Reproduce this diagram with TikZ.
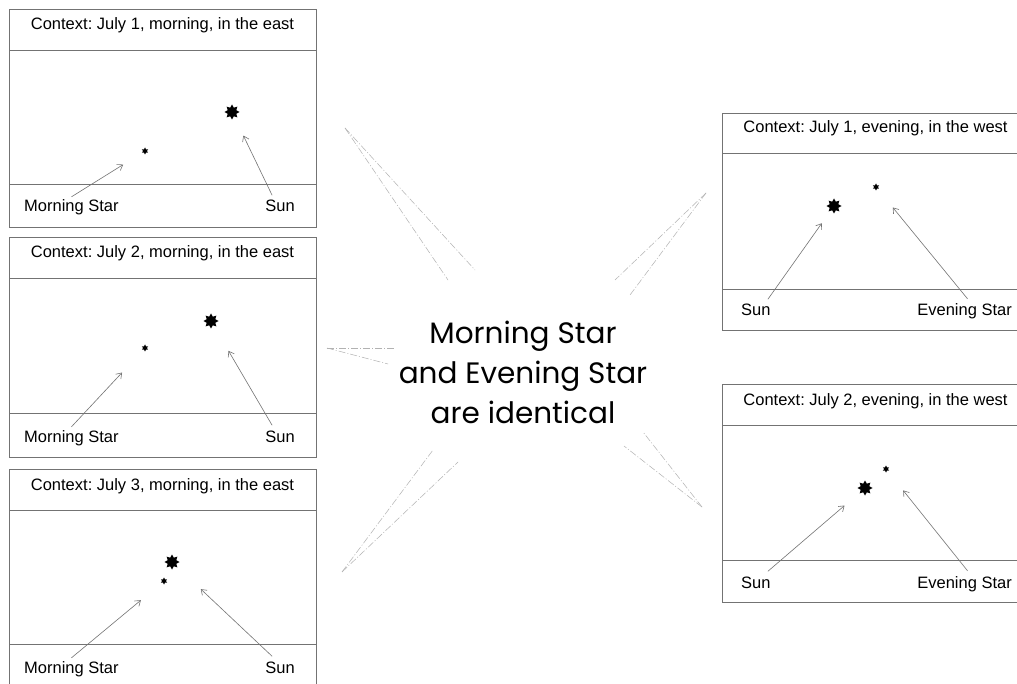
\documentclass[tikz,border=0pt]{standalone}
\usepackage{fontspec}
\setmainfont{Liberation Sans}
\newfontfamily\claimfont{Poppins}
\usetikzlibrary{arrows.meta, shapes.geometric}
\frenchspacing

\tikzset{
  frame/.style={draw=black!55, line width=0.8pt},
  ctx/.style={font=\fontsize{16.5}{19}\selectfont, anchor=base, inner sep=0pt},
  lab/.style={font=\fontsize{16.5}{19}\selectfont, inner sep=1pt},
  sun/.style={star, star points=8, star point ratio=1.6, minimum size=15pt, fill=black, inner sep=0pt},
  planet/.style={star, star points=6, star point ratio=1.8, minimum size=7pt, fill=black, inner sep=0pt},
  ptr/.style={draw=black!55, line width=0.6pt, -{Straight Barb[length=5pt,width=7pt]}},
  ray/.style={draw=black!30, line width=0.5pt, dash pattern=on 7pt off 2pt on 1pt off 2pt}
}

\begin{document}
\begin{tikzpicture}[x=1pt,y=-1pt]
\useasboundingbox[fill=white] (0,0) rectangle (1017,684);

% left panels: morning, in the east
\draw[frame] (9,9) rectangle (316,227);
\draw[frame] (9,50) -- (316,50);
\draw[frame] (9,184) -- (316,184);
\node[ctx] (p1ctx) at (162.5,30) {Context: July 1, morning, in the east};
\node[planet] (p1ms) at (145,151) {};
\node[sun] (p1sun) at (232,112) {};
\node[lab, anchor=base west] (p1mslab) at (23,212) {Morning Star};
\node[lab, anchor=base east] (p1sunlab) at (296,212) {Sun};
\draw[ptr, shorten >=22pt] ([yshift=2pt]p1mslab.north) -- (p1ms);
\draw[ptr, shorten >=21pt] ([xshift=-8pt,yshift=4pt]p1sunlab.north) -- (p1sun);

\draw[frame] (9,237) rectangle (316,457);
\draw[frame] (9,278) -- (316,278);
\draw[frame] (9,413) -- (316,413);
\node[ctx] (p2ctx) at (162.5,258) {Context: July 2, morning, in the east};
\node[planet] (p2ms) at (145,348) {};
\node[sun] (p2sun) at (211,321) {};
\node[lab, anchor=base west] (p2mslab) at (23,442) {Morning Star};
\node[lab, anchor=base east] (p2sunlab) at (296,442) {Sun};
\draw[ptr, shorten >=31pt] ([yshift=2pt]p2mslab.north) -- (p2ms);
\draw[ptr, shorten >=29pt] ([xshift=-8pt,yshift=4pt]p2sunlab.north) -- (p2sun);

\draw[frame] (9,469) rectangle (316,690);
\draw[frame] (9,510) -- (316,510);
\draw[frame] (9,644) -- (316,644);
\node[ctx] (p3ctx) at (162.5,490) {Context: July 3, morning, in the east};
\node[planet] (p3ms) at (164,581) {};
\node[sun] (p3sun) at (172,562) {};
\node[lab, anchor=base west] (p3mslab) at (23,673) {Morning Star};
\node[lab, anchor=base east] (p3sunlab) at (296,673) {Sun};
\draw[ptr, shorten >=27pt] ([yshift=2pt]p3mslab.north) -- (p3ms);
\draw[ptr, shorten >=32pt] ([xshift=-8pt,yshift=4pt]p3sunlab.north) -- (p3sun);

% right panels: evening, in the west
\draw[frame] (722,113) rectangle (1029,330);
\draw[frame] (722,153) -- (1029,153);
\draw[frame] (722,289) -- (1029,289);
\node[ctx] (q1ctx) at (875.5,133) {Context: July 1, evening, in the west};
\node[sun] (q1sun) at (834,206) {};
\node[planet] (q1es) at (876,187) {};
\node[lab, anchor=base west] (q1sunlab) at (740,316) {Sun};
\node[lab, anchor=base east] (q1eslab) at (1013,316) {Evening Star};
\draw[ptr, shorten >=15pt] ([xshift=12pt,yshift=4pt]q1sunlab.north) -- (q1sun);
\draw[ptr, shorten >=24pt] ([xshift=3pt,yshift=4pt]q1eslab.north) -- (q1es);

\draw[frame] (722,384) rectangle (1029,602);
\draw[frame] (722,425) -- (1029,425);
\draw[frame] (722,560) -- (1029,560);
\node[ctx] (q2ctx) at (875.5,405) {Context: July 2, evening, in the west};
\node[sun] (q2sun) at (865,488) {};
\node[planet] (q2es) at (886,469) {};
\node[lab, anchor=base west] (q2sunlab) at (740,588) {Sun};
\node[lab, anchor=base east] (q2eslab) at (1013,588) {Evening Star};
\draw[ptr, shorten >=20pt] ([xshift=12pt,yshift=4pt]q2sunlab.north) -- (q2sun);
\draw[ptr, shorten >=25pt] ([xshift=3pt,yshift=4pt]q2eslab.north) -- (q2es);

% the claim in the middle
\node[font=\claimfont\fontsize{29.5}{40}\selectfont, align=center] (claim) at (523,372)
  {Morning Star\\and Evening Star\\are identical};

% faint rays between the claim and the contexts
\coordinate (r1) at (345,128); \coordinate (r1a) at (448,280); \coordinate (r1b) at (475,270);
\coordinate (r2) at (327,348); \coordinate (r2a) at (394,348); \coordinate (r2b) at (388,364);
\coordinate (r3) at (342,572); \coordinate (r3a) at (433,450); \coordinate (r3b) at (458,462);
\coordinate (r4) at (706,193); \coordinate (r4a) at (615,280); \coordinate (r4b) at (630,295);
\coordinate (r5) at (702,507); \coordinate (r5a) at (643,432); \coordinate (r5b) at (624,446);
\foreach \r in {r1,r2,r3,r4,r5} {
  \draw[ray] (\r) -- (\r a);
  \draw[ray] (\r) -- (\r b);
}
\end{tikzpicture}
\end{document}
